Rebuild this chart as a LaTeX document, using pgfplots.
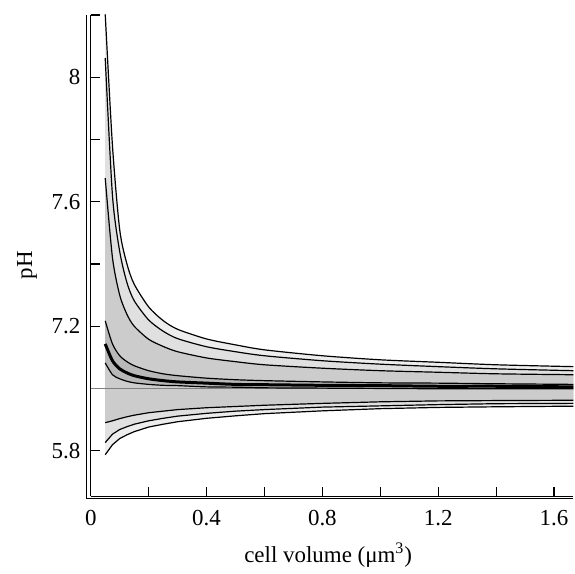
\documentclass[border=0pt]{standalone}
\usepackage{fontspec}
\setmainfont{Liberation Serif}
\usepackage{pgfplots}
\pgfplotsset{compat=1.18}
\usepgfplotslibrary{fillbetween}
\usepackage{pgfplotstable}

\pgfplotstableread{
x U1 U2 U3 U4 M U5 L1 L2 L3
0.05 8.202 8.061 7.676 7.217 7.143 7.082 6.890 6.826 6.787
0.075 7.780 7.620 7.420 7.143 7.089 7.044 6.896 6.853 6.819
0.1 7.510 7.440 7.300 7.105 7.063 7.031 6.903 6.868 6.839
0.125 7.400 7.340 7.238 7.086 7.050 7.023 6.909 6.877 6.851
0.15 7.335 7.282 7.200 7.073 7.041 7.018 6.914 6.885 6.861
0.2 7.262 7.220 7.158 7.057 7.031 7.013 6.922 6.896 6.876
0.25 7.218 7.184 7.135 7.047 7.025 7.010 6.927 6.904 6.885
0.3 7.190 7.160 7.118 7.041 7.021 7.009 6.932 6.911 6.893
0.4 7.159 7.134 7.098 7.033 7.017 7.005 6.938 6.920 6.904
0.5 7.140 7.118 7.086 7.028 7.013 7.004 6.942 6.927 6.912
0.6 7.124 7.105 7.076 7.025 7.012 7.002 6.946 6.932 6.919
0.8 7.105 7.089 7.065 7.021 7.010 7.001 6.952 6.940 6.928
1.0 7.092 7.078 7.057 7.018 7.009 7.000 6.957 6.944 6.935
1.2 7.084 7.070 7.052 7.017 7.007 6.999 6.960 6.948 6.939
1.4 7.076 7.063 7.047 7.015 7.007 6.999 6.961 6.951 6.941
1.667 7.070 7.057 7.044 7.013 7.005 6.999 6.962 6.952 6.943
}\data

\begin{document}
\begin{tikzpicture}[font=\fontsize{11.5}{13.8}\selectfont]
\begin{axis}[
  scale only axis,
  width=242pt, height=241.25pt,
  xmin=0, xmax=1.667,
  ymin=6.654, ymax=8.2,
  axis lines=left,
  axis line style={-, line width=0.6pt},
  clip mode=individual,
  tick align=inside,
  major tick length=4.5pt,
  minor tick length=4.5pt,
  every tick/.style={black, line width=0.6pt},
  xtick={0,0.4,0.8,1.2,1.6},
  xticklabels={0,0.4,0.8,1.2,1.6},
  minor xtick={0.2,0.6,1.0,1.4},
  ytick={6.8,7.2,7.6,8},
  yticklabels={5.8,7.2,7.6,8},
  minor ytick={7.0,7.4,7.8,8.2},
  xticklabel style={yshift=-3.4pt},
  yticklabel style={xshift=-1.7pt},
  xlabel={cell volume (μm\textsuperscript{3})},
  ylabel={pH},
  every axis x label/.style={at={(axis description cs:0.492,0)}, yshift=-29.5pt, anchor=center},
  every axis y label/.style={at={(axis description cs:-0.132,0.48)}, rotate=90, anchor=center},
  sm/.style={smooth, tension=0.45},
]
\addplot[draw=none, sm, name path=U1] table[x=x, y=U1]{\data};
\addplot[draw=none, sm, name path=U2] table[x=x, y=U2]{\data};
\addplot[draw=none, sm, name path=U3] table[x=x, y=U3]{\data};
\addplot[draw=none, sm, name path=U4] table[x=x, y=U4]{\data};
\addplot[draw=none, sm, name path=U5] table[x=x, y=U5]{\data};
\addplot[draw=none, name path=L1] table[x=x, y=L1]{\data};
\addplot[draw=none, name path=L2] table[x=x, y=L2]{\data};
\addplot[draw=none, name path=L3] table[x=x, y=L3]{\data};
\addplot[fill=black!7, draw=none] fill between[of=U1 and L3];
\addplot[fill=black!12, draw=none] fill between[of=U2 and L2];
\addplot[fill=black!20, draw=none] fill between[of=U3 and L1];
\addplot[fill=black!28, draw=none] fill between[of=U4 and U5];
\addplot[black!50, line width=0.5pt] coordinates {(0,7) (1.667,7)};
\addplot[black, sm, line width=0.6pt] table[x=x, y=U1]{\data};
\addplot[black, sm, line width=0.6pt] table[x=x, y=U2]{\data};
\addplot[black, sm, line width=0.6pt] table[x=x, y=U3]{\data};
\addplot[black, sm, line width=0.6pt] table[x=x, y=U4]{\data};
\addplot[black, sm, line width=0.6pt] table[x=x, y=U5]{\data};
\addplot[black, line width=0.6pt] table[x=x, y=L1]{\data};
\addplot[black, line width=0.6pt] table[x=x, y=L2]{\data};
\addplot[black, line width=0.6pt] table[x=x, y=L3]{\data};
\addplot[black, sm, line width=1.5pt] table[x=x, y=M]{\data};
\draw[line width=0.6pt] ([xshift=-2pt]rel axis cs:0,1) -- ([xshift=-2pt, yshift=-1pt]rel axis cs:0,0) -- ([yshift=-1pt]rel axis cs:1,0);
\path ([xshift=-45.5pt, yshift=7.5pt]rel axis cs:0,1) rectangle ([yshift=-35.75pt]rel axis cs:1,0);
\end{axis}
\end{tikzpicture}
\end{document}
